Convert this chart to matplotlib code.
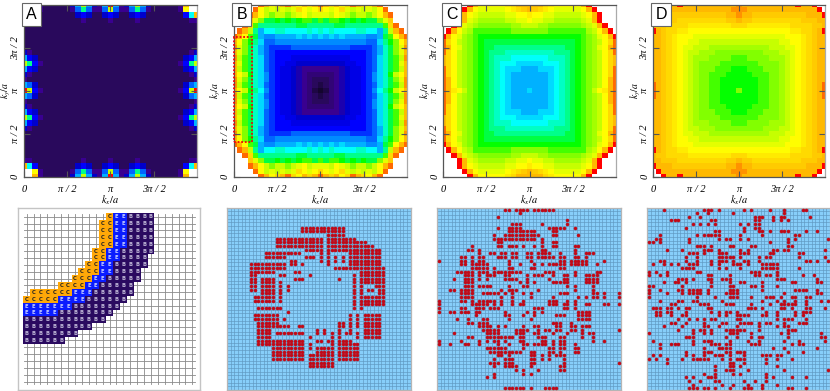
import numpy as np
import matplotlib
matplotlib.use("Agg")
import matplotlib.pyplot as plt
from matplotlib.colors import LinearSegmentedColormap
from matplotlib.patches import Rectangle

plt.rcParams['mathtext.fontset'] = 'stix'
W, H = 830, 391

# colour levels used by the heatmap strings, '.' is left white
LEVELS = "0123456789abcdefghijklmnopqrstuvw"
LEVEL_COLORS = ["#14052e", "#290a5c", "#3a0090", "#0000cc", "#0000ff", "#0064ff", "#00b0ff",
                "#00ffff", "#00ff90", "#00ff00", "#80ff00", "#c4ff00", "#ffff00", "#ffdc00",
                "#ffbe00", "#ff7000", "#ff0000"]

# lower left quadrant of each map, first row is k_y = 0, last column is k_x = pi
MAP_A = ["..s42222 26cmc64cw".replace(" ", ""),
         "..o42222 24aga44am".replace(" ", ""),
         "se82222222686226 8".replace(" ", ""),
         "44222222222422224",
         "22222222222222222",
         "22222222222222222",
         "22222222222222222",
         "22222222222222222",
         "22222222222222222",
         "64222222222222222",
         "c8622222222222222",
         "mg842222222222222",
         "c8622222222222222",
         "64222222222222222",
         "42222222222222222",
         "ca622222222222222",
         "wm842222222222222"]
MAP_B = [".....usoqsuqosqsu",
         "....uomnmnmnqonoq",
         "...usomkmmkmnomnn",
         "...rnkhhihihijjhj",
         "..uqjggggggghhggg",
         ".usmgceeffeeeefef",
         "usojhcbbccccdcdcd",
         "sokigdaabbbbbbbbb",
         "tnkhfca9999aaaaaa",
         "snkhfca9888888888",
         "tmjhfda9888777777",
         "snjhfda9887766666",
         "smjhfda9877654444",
         "somifdb9877654333",
         "tnkhfdb9877654322",
         "tmjhfda9877654321",
         "somigeb9877654310"]
MAP_C = [".....wsooooopqsss",
         "....wsonnnnnopqrs",
         "...wsonmmmmmnnoop",
         "...wsnmlllllmmnno",
         "..wsnmlkkkkkkllmm",
         ".wsomljjjjjjjkkkk",
         "wsonlkjiiiiiiiiii",
         "uqomlkjihhhhhhhhh",
         "usonlkjihhggggggg",
         "uqomlkjihgggfffff",
         "sqomlkjihgfffeeee",
         "sqomlkjihgfeeeddd",
         "uqomlkjihgfedddcc",
         "uqomlkjihgfedcccc",
         "usomlkjihgfedcccc",
         "usomlkjihgfedcccc",
         "uspomkjihgfedcccd"]
MAP_D = ["..wsswsssssssssst",
         ".wssssssssssssstt",
         "wsssrrrrrrrrrrsst",
         "ssrrrqqqqqqqqqrrs",
         "srrqqqqppppppppqq",
         "wsrqqppoooooooooo",
         "ssrqpooonnnnnnnnn",
         "ssrqpoonnmmmmmmmm",
         "ssrqponnmmmllllll",
         "ssrqponmmlllkkkkk",
         "ssrqponmlllkkkkjj",
         "ssrqponmlkkkkjjjj",
         "ssrqponmlkkkjjjii",
         "ssrqponmlkkjjjiii",
         "ssrqponmlkkjjiiii",
         "usrqponmlkkjjiiii",
         "usrqponmlkkjjiiik"]

# lattice of the first real space panel, C / E / B per site, row 0 on top
LATTICE = ["............CEEBBBB",
           "...........CCEEBBBB",
           "...........CCEEBBBB",
           "...........CCEEBBBB",
           "...........CCEEBBBB",
           "..........CCEEBBBBB",
           "..........CCEEBBBB",
           ".........CCEEBBBBB",
           "........CCCEEBBBB",
           ".......CCCEEBBBBB",
           ".....CCCCEEBBBBB",
           ".CCCCCCEEEBBBBBB",
           "CCCCCEEEEBBBBBB",
           "EEEEEEEBBBBBBB",
           "EEEEEBBBBBBBB",
           "BBBBBBBBBBBB",
           "BBBBBBBBBB",
           "BBBBBBBB",
           "BBBBBB"]

# occupied cells of the 50x50 real space panels, one string per row
DOTS_B = ["", "", "", "", "",
          "20-31", "20-31", "27-31",
          "13-25 27-34", "13-25 27-37", "13-25 27-39", "21-25 27-32 33-41",
          "10-19 25 27 33-41", "10-15 21-23 25 27 29 31 33-41", "17-18 25 27 29 31 33-41",
          "6-15 17-18 20 27 33-41", "6-15 29-42", "6-12 18-19 36-42",
          "6-7 14-15 22 34 36-42", "6-7 9-12 18-20 30 34 36-42", "6-7 9-12 14 34 36-42",
          "6-7 9-12 14 16 34 36 40-42", "6-7 9-12 14 16 34 36 38-39 41-42", "9-12 14 34 36 41-42",
          "7-12 14 34 36-42", "7-12 14 34 36 37-42", "34 36 37-42", "8-14 34 36", "16",
          "7-13 33 35 37-41", "7-13 15 33 35 37-41", "8-13 30-31 33 35 37-41",
          "8-13 14-16 19-20 30-31 33 35 37-41", "8-11 24 26 30 33 37-41",
          "8-11 13-20 24 26 28 30 32-33 35 37-41", "8-11 22 28 30 35 37-41",
          "8-20 24-25 27-28 30-33", "8-20 22 28 30-35", "12-20 22 24-28 30-35",
          "12-20 24-28 30-35", "12-20 22-28 30-35", "12-20 22-28 30-35", "22-28", "22-28",
          "", "", "", "", "", ""]
DOTS_C = ["18-19 21-24 26-31", "22", "16", "35", "20-22 28 35",
          "16 19-22 30-34 37", "19-26 31-32", "15 18-27 31-32 38", "15-26 28", "16-17 28 31-32",
          "9 16-17 19-21 23 26 28 31-32 37-38", "8-9 11 28-29 37",
          "11 14-15 17-18 20-21 24-25 27-30 33 37 40-42",
          "6-7 9 11-12 16-18 20-21 24-25 27-31 33-34 37-38 40",
          "0 6-7 9 11-12 19 25 33-34 36-40 45", "6-7 9-13 19 22 26 28 30-34 36-40 43",
          "9-13 15 19-20 25-26 33-34", "5-9 11-13 15-22 29-31 37 43-44",
          "7-9 11 13-15 18-19 24 26-28 31 34-35 37 40-43", "4 7-9 11 13 18-21 24 30 34-35 40-43",
          "7-9 22 24 26 31-35 40-43", "7-9 11-14 19 23-24 35 37 42", "3-4 6-9 17 19-21 27 37 42",
          "6-9 12-16 18 20 23 25 33-35 42-43 45 49", "6-9 17 20 25 31 38 40 42-43 45 49",
          "0 6-7 9 11-15 17 20 23 30-32 35 37", "0 9-13 15 17 20 22-23 30-32 34-35 37 40-41 45-46 49",
          "0 6-7 10-12 14-16 26-28 34-35 37", "0 3-4 6-8 10-11 18 24 26 28 38-41",
          "10 18-19 23 26 32-34 38-41", "5 8 12-13 19 25 38-41", "8-9 11-13 31-33 36",
          "11-14 16 18 23 26-27 32-33 36-37 39-41", "12-16 21-24 27 29-30 32-33 36-37 39 49",
          "4 13-16 21-23 26-27 31 35 39 41-42", "8-9 13-20 22-23 27-29 33-34 39 42",
          "0 6 11 13 15-16 18 22-23 28-29 31 33-34 42 45", "0 3 7-8 11 16 19 23-24 26-29 31 33-34 37",
          "13-18 23 30-31 33-34 37-38", "14-22 25-26 30-31 33 37-38", "16-17 19 25-26 28 30 32-34",
          "15 18-20 25-26 28 30 34", "14-16 18-20 25-26 34 49", "15 18-21 25 33-34",
          "21 23 27 33-34", "15 23 25", "13 15", "", "", "18-23 25 29-32"]
DOTS_D = ["4 15-17 19 26 28 33 37 42-43", "13 16 23 37", "11 14 29-31 34 36-37 44",
          "6-8 17-18 29-30 34 36 38", "12 14 16 18 25 27 29-30", "10 26 29-30",
          "18-19 26 30-31 33 36-38 43 46", "3 13 15-19 25 31 40-41", "2-3 11 19 21-22 25 27 38 40 49",
          "0-1 3 11 33 38", "13-15 17 22-23 28-29 38-39", "5 9 15-17 19 25 27 34-35 37-38 48",
          "11-13 15 19-21 25-27 33-34 41-42", "10 13 19-23 25 30 32-33 41 48",
          "3-4 10 13 17 19-21 23 26-27 30 43-44 46 49", "1 4 6 8 11-13 17 19 23-25 27 31-35",
          "9-12 19 21 25 31-35 41", "0 2 5 13-14 28-30 35", "0 3 5 16-17 22 29-30 32-33 35 42 45",
          "8-10 12 16-17 20-22 35-37 46", "4 7-8 10 17 22 25-26 31 39-40 46-47",
          "0-1 9 17 22-23 28-29 31 35", "0 3 8-9 11-14 16 22-24 31 40-43 46",
          "0 5 9 11-14 16 21-24 37 46-47", "0 13 18 22-24 28 32-34 36 39-40 43-44",
          "3 8-9 12-13 20 31 35 37 40 43 47 49", "6-7 14-16 21-23 28 33 36-40 43",
          "1-3 5-6 8 10-11 16-17 27-29 31 36-37 39 43-44 48", "2-3 5-6 10 17 19 21-22 24 32 35 40 42-44",
          "2-3 6 9-10 19 21 24-27 31-32 35 40 42", "8 11 13 15 17-18 24-25 35 37-39 43",
          "6-7 10 15 20-21 25-28 30 32-33 37 41-43", "4 9 15-16 19 24 30 35 37-38",
          "8 12 14-15 17 21-26 30 38-40", "0 12 15 17 22-24 28 36 38 47",
          "10-12 21 24 28 30-31 38 47-48", "1 12 15-17 22 27 30 37 41 48",
          "3 6-8 12 17-19 21-22 28-30 39 41-42", "3 15 19-22 34 37 46",
          "10 15-17 21-22 24-26 38 42", "1 3 10 12 15 18-20 22 26 31-33 35-36",
          "0 2 5 9 12-16 20 22 24-26 32 35 39", "5 22-23 26 32", "18 22-23 25 35",
          "18 21-23 27 37 49", "15 18 23 25 32", "10 12 16-18 32 34 39 43",
          "11 14 18-19 26 29 32", "12 20 23 27 31 35", "11-13 15-16 18 22 26-28 31 38-39 43"]

TICK_POS = [0, 8, 16, 24]
TICK_LABELS = ["0", "\u03c0 / 2", "\u03c0", "3\u03c0 / 2"]
PANEL_NAMES = ["A", "B", "C", "D"]


def add_ax(fig, left, top, right, bottom):
    return fig.add_axes([left / W, 1 - bottom / H, (right - left) / W, (bottom - top) / H])


def quad_to_grid(rows):
    quad = np.array([[np.nan if c == "." else LEVELS.index(c) for c in r] for r in rows])
    half = np.hstack([quad, quad[:, -2::-1]])
    return np.vstack([half, half[-2::-1, :]])


def parse_dots(rows):
    xs, ys = [], []
    for j, row in enumerate(rows):
        for item in row.split():
            if "-" in item:
                a, b = item.split("-")
                cols = range(int(a), int(b) + 1)
            else:
                cols = [int(item)]
            for i in cols:
                xs.append(i + 0.5)
                ys.append(j + 0.5)
    return xs, ys


def draw_map(ax, rows, cmap):
    ax.imshow(quad_to_grid(rows), origin='lower', extent=[-0.5, 32.5, -0.5, 32.5], cmap=cmap,
              vmin=0, vmax=32, interpolation='nearest', aspect='auto')
    ax.set_xlim(0, 32)
    ax.set_ylim(0, 32)
    ax.set_xticks(TICK_POS)
    ax.set_yticks(TICK_POS)
    ax.set_xticklabels(TICK_LABELS, family='Liberation Serif', style='italic', fontsize=7.5)
    ax.set_yticklabels(TICK_LABELS, family='Liberation Serif', style='italic', fontsize=7.5,
                       rotation=90, va='center')
    ax.tick_params(direction='in', length=4, width=0.8, color='#555555', top=True, right=True)
    ax.tick_params(axis='x', pad=6)
    ax.tick_params(axis='y', pad=3)
    ax.set_xlabel(r"$k_x/a$", fontsize=7.5)
    ax.set_ylabel(r"$k_y/a$", fontsize=7, va='center')
    ax.xaxis.set_label_coords(0.5, -0.095)
    ax.yaxis.set_label_coords(-0.103, 0.5)
    for name in ax.spines:
        ax.spines[name].set_color('#555555')
        ax.spines[name].set_linewidth(0.9)
    ax.spines['right'].set_color('#aaaaaa')


def draw_dots(ax, rows):
    ax.set_facecolor('#87cefa')
    for k in range(51):
        ax.axvline(k, color='#5f97c0', lw=0.45, zorder=1)
        ax.axhline(k, color='#5f97c0', lw=0.45, zorder=1)
    xs, ys = parse_dots(rows)
    ax.scatter(xs, ys, s=6.5, color='#c00a18', linewidths=0, zorder=3, snap=False)
    ax.set_xlim(0, 50)
    ax.set_ylim(50, 0)
    ax.set_xticks([])
    ax.set_yticks([])
    for name in ax.spines:
        ax.spines[name].set_color('#b5b5b5')
        ax.spines[name].set_linewidth(0.9)


def draw_lattice(ax):
    for k in range(25):
        ax.plot([k, k], [-0.4, 24.4], color='#8a8a8a', lw=0.6, zorder=1)
        ax.plot([-0.4, 24.4], [k, k], color='#8a8a8a', lw=0.6, zorder=1)
    fills = {"C": "#ffa808", "E": "#0a1cff", "B": "#2a0a60"}
    inks = {"C": "#222222", "E": "#c8d0ff", "B": "#c0b8d8"}
    for j, row in enumerate(LATTICE):
        for i, c in enumerate(row):
            if c == ".":
                continue
            ax.add_patch(Rectangle((i - 0.5, j - 0.5), 1, 1, facecolor=fills[c], edgecolor='none', zorder=2))
            ax.text(i, j, c, fontsize=3.8, color=inks[c], ha='center', va='center',
                    fontweight='bold', zorder=3)
    ax.set_xlim(-1.33, 25.1)
    ax.set_ylim(25.2, -1.26)
    ax.set_xticks([])
    ax.set_yticks([])
    for name in ax.spines:
        ax.spines[name].set_color('#c4c4c4')
        ax.spines[name].set_linewidth(1.0)


def main():
    fig = plt.figure(figsize=(W / 100, H / 100), dpi=100)
    cmap = LinearSegmentedColormap.from_list("map", LEVEL_COLORS, N=256)
    cmap.set_bad('white')

    map_boxes = [(24, 4.7, 196.7, 176.7), (234, 4.7, 406.7, 176.7),
                 (443.3, 4.7, 615.7, 176.7), (653.3, 4.7, 825, 176.7)]
    maps = [MAP_A, MAP_B, MAP_C, MAP_D]
    axes = []
    for box, rows in zip(map_boxes, maps):
        ax = add_ax(fig, *box)
        draw_map(ax, rows, cmap)
        axes.append(ax)

    # dotted box on panel B
    axes[1].add_patch(Rectangle((0, 6.4), 3.3, 19.6, fill=False, edgecolor='#f00010', lw=1.3,
                                linestyle=(0, (1, 1)), zorder=5, clip_on=False))

    label_x = [31.7, 241.7, 451.7, 661]
    for name, x in zip(PANEL_NAMES, label_x):
        fig.text(x / W, 1 - 14.3 / H, name, family='Liberation Sans', fontsize=11.5, ha='center',
                 va='center', zorder=10,
                 bbox=dict(boxstyle='square,pad=0.25', facecolor='white', edgecolor='#666666', lw=0.8))

    draw_lattice(add_ax(fig, 17.5, 208, 200, 390))
    draw_dots(add_ax(fig, 227, 207.7, 410.7, 390), DOTS_B)
    draw_dots(add_ax(fig, 437, 207.7, 620.7, 390), DOTS_C)
    draw_dots(add_ax(fig, 647.3, 207.7, 830, 390), DOTS_D)

    fig.savefig("out.png", dpi=100)


if __name__ == "__main__":
    main()
